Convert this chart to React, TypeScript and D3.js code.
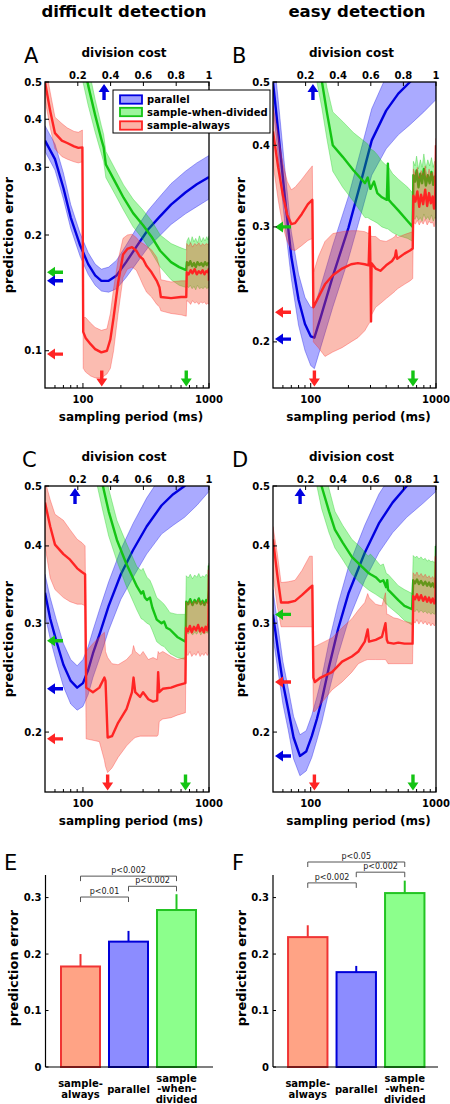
import React from "react";
import * as d3 from "d3";

const FONT = "'DejaVu Sans', Verdana, sans-serif";
type Row = [number, number, number, number]; // sampling period, mean, lo, hi

// ---------- Panel A (difficult detection, division cost) ----------
const A_parallel: Row[] = [
  [50, 0.352, 0.33, 0.385], [60, 0.315, 0.295, 0.345], [70, 0.265, 0.248, 0.29],
  [80, 0.222, 0.208, 0.24], [95, 0.188, 0.176, 0.202], [110, 0.168, 0.158, 0.18],
  [125, 0.157, 0.148, 0.168], [140, 0.152, 0.143, 0.163], [160, 0.152, 0.142, 0.165],
  [185, 0.157, 0.145, 0.172], [220, 0.17, 0.155, 0.188], [270, 0.188, 0.17, 0.21],
  [330, 0.207, 0.186, 0.232], [400, 0.222, 0.198, 0.25], [500, 0.24, 0.213, 0.272],
  [650, 0.258, 0.227, 0.293], [800, 0.271, 0.237, 0.308], [1000, 0.283, 0.248, 0.322],
];
const A_sww: Row[] = [
  [100, 0.57, 0.5, 0.64], [110, 0.49, 0.435, 0.55], [125, 0.41, 0.37, 0.45],
  [140, 0.355, 0.325, 0.385], [146, 0.338, 0.31, 0.365], [152, 0.305, 0.282, 0.33],
  [180, 0.275, 0.255, 0.297], [210, 0.25, 0.232, 0.27], [250, 0.228, 0.21, 0.248],
  [300, 0.212, 0.195, 0.232], [350, 0.198, 0.18, 0.218], [410, 0.182, 0.165, 0.2],
  [500, 0.17, 0.153, 0.19], [580, 0.165, 0.148, 0.186], [660, 0.162, 0.146, 0.183],
  [668, 0.17, 0.147, 0.193], [690, 0.167, 0.146, 0.197], [710, 0.171, 0.148, 0.19],
  [735, 0.166, 0.145, 0.198], [760, 0.169, 0.147, 0.192], [785, 0.165, 0.144, 0.196],
  [810, 0.17, 0.148, 0.191], [840, 0.167, 0.145, 0.199], [870, 0.169, 0.146, 0.192],
  [900, 0.166, 0.145, 0.197], [930, 0.17, 0.147, 0.193], [960, 0.167, 0.145, 0.198],
  [985, 0.169, 0.146, 0.194], [1000, 0.168, 0.146, 0.199],
];
const A_sa: Row[] = [
  [50, 0.5, 0.45, 0.56], [55, 0.42, 0.38, 0.47], [60, 0.368, 0.335, 0.405],
  [68, 0.352, 0.32, 0.39], [75, 0.347, 0.315, 0.38], [85, 0.34, 0.31, 0.372],
  [92, 0.337, 0.308, 0.37], [99, 0.338, 0.31, 0.375], [100.5, 0.112, 0.09, 0.122],
  [105, 0.108, 0.088, 0.122], [115, 0.104, 0.086, 0.118], [125, 0.101, 0.085, 0.115],
  [140, 0.099, 0.085, 0.113], [155, 0.1, 0.087, 0.114], [165, 0.107, 0.09, 0.125],
  [175, 0.122, 0.1, 0.145], [190, 0.15, 0.125, 0.172], [208, 0.178, 0.155, 0.196],
  [225, 0.184, 0.163, 0.2], [245, 0.186, 0.165, 0.201], [265, 0.182, 0.162, 0.197],
  [282, 0.176, 0.155, 0.192], [300, 0.173, 0.148, 0.19], [320, 0.166, 0.142, 0.187],
  [350, 0.16, 0.138, 0.183], [385, 0.152, 0.132, 0.175], [405, 0.146, 0.13, 0.165],
  [415, 0.138, 0.127, 0.153], [500, 0.137, 0.125, 0.151], [600, 0.138, 0.124, 0.152],
  [660, 0.138, 0.123, 0.152], [666, 0.16, 0.135, 0.19], [690, 0.158, 0.134, 0.187],
  [715, 0.162, 0.132, 0.191], [740, 0.159, 0.135, 0.186], [770, 0.163, 0.133, 0.19],
  [800, 0.158, 0.134, 0.188], [830, 0.161, 0.132, 0.191], [860, 0.159, 0.134, 0.187],
  [890, 0.162, 0.133, 0.19], [920, 0.158, 0.134, 0.188], [950, 0.161, 0.132, 0.19],
  [980, 0.16, 0.133, 0.189], [995, 0.163, 0.132, 0.19], [1000, 0.152, 0.134, 0.188],
];
const A_leftArrows: [string, number][] = [["sww", 0.16], ["parallel", 0.152], ["sa", 0.098]];
const A_downArrows: [string, number][] = [["sa", 141], ["sww", 660]];
const A_upArrow = 0.36;

// ---------- Panel B (easy detection, division cost) ----------
const B_parallel: Row[] = [
  [50, 0.5, 0.46, 0.56], [55, 0.42, 0.385, 0.47], [62, 0.335, 0.305, 0.37],
  [70, 0.27, 0.25, 0.295], [80, 0.232, 0.212, 0.254], [90, 0.213, 0.194, 0.234],
  [100, 0.204, 0.184, 0.226], [107, 0.203, 0.182, 0.226], [120, 0.218, 0.196, 0.243],
  [150, 0.252, 0.226, 0.281], [200, 0.299, 0.268, 0.334], [250, 0.35, 0.312, 0.392],
  [307, 0.407, 0.36, 0.455], [400, 0.452, 0.395, 0.51], [500, 0.48, 0.415, 0.55],
  [620, 0.5, 0.43, 0.58], [800, 0.53, 0.45, 0.625], [1000, 0.56, 0.47, 0.67],
];
const B_sww: Row[] = [
  [112, 0.56, 0.5, 0.6], [123, 0.5, 0.455, 0.54], [135, 0.448, 0.408, 0.49],
  [150, 0.4, 0.365, 0.45], [180, 0.384, 0.345, 0.435], [220, 0.366, 0.328, 0.418],
  [271, 0.35, 0.31, 0.405], [285, 0.357, 0.31, 0.402], [300, 0.343, 0.308, 0.395],
  [320, 0.352, 0.306, 0.392], [340, 0.338, 0.304, 0.387], [370, 0.333, 0.3, 0.378],
  [405, 0.33, 0.298, 0.372], [413, 0.375, 0.298, 0.376], [420, 0.33, 0.297, 0.37],
  [450, 0.325, 0.294, 0.362], [500, 0.318, 0.291, 0.355], [595, 0.306, 0.288, 0.345],
  [652, 0.3, 0.285, 0.338], [660, 0.36, 0.31, 0.378], [680, 0.352, 0.308, 0.372],
  [700, 0.366, 0.312, 0.385], [725, 0.345, 0.307, 0.368], [750, 0.362, 0.31, 0.38],
  [775, 0.35, 0.306, 0.37], [800, 0.368, 0.314, 0.388], [830, 0.347, 0.308, 0.369],
  [860, 0.36, 0.311, 0.38], [890, 0.35, 0.307, 0.372], [920, 0.364, 0.313, 0.383],
  [950, 0.348, 0.306, 0.37], [975, 0.358, 0.31, 0.378], [1000, 0.352, 0.309, 0.374],
];
const B_sa: Row[] = [
  [50, 0.42, 0.375, 0.46], [55, 0.37, 0.33, 0.415], [60, 0.335, 0.3, 0.375],
  [65, 0.313, 0.285, 0.352], [70, 0.303, 0.277, 0.342], [75, 0.304, 0.276, 0.345],
  [85, 0.314, 0.281, 0.355], [95, 0.325, 0.286, 0.365], [103, 0.33, 0.288, 0.372],
  [105, 0.226, 0.2, 0.255], [115, 0.234, 0.196, 0.27], [130, 0.245, 0.19, 0.285],
  [150, 0.253, 0.193, 0.293], [178, 0.259, 0.196, 0.295], [210, 0.263, 0.2, 0.296],
  [238, 0.264, 0.203, 0.296], [270, 0.263, 0.208, 0.295], [290, 0.262, 0.213, 0.293],
  [296, 0.3, 0.214, 0.3], [300, 0.258, 0.215, 0.292], [303, 0.215, 0.215, 0.29],
  [306, 0.264, 0.22, 0.29], [330, 0.259, 0.226, 0.29], [360, 0.257, 0.229, 0.286],
  [400, 0.262, 0.233, 0.285], [446, 0.266, 0.237, 0.288], [470, 0.27, 0.239, 0.29],
  [480, 0.276, 0.24, 0.292], [490, 0.268, 0.241, 0.289], [560, 0.273, 0.245, 0.292],
  [620, 0.276, 0.248, 0.294], [652, 0.278, 0.25, 0.295], [660, 0.335, 0.305, 0.368],
  [685, 0.328, 0.303, 0.36], [710, 0.34, 0.307, 0.37], [735, 0.322, 0.302, 0.356],
  [760, 0.336, 0.306, 0.366], [790, 0.325, 0.303, 0.36], [820, 0.342, 0.308, 0.372],
  [850, 0.323, 0.302, 0.357], [880, 0.338, 0.306, 0.368], [910, 0.326, 0.304, 0.36],
  [940, 0.334, 0.305, 0.364], [965, 0.32, 0.3, 0.355], [985, 0.33, 0.303, 0.36],
  [995, 0.37, 0.31, 0.4], [1000, 0.4, 0.31, 0.41],
];
const B_leftArrows: [string, number][] = [["sww", 0.3], ["sa", 0.222], ["parallel", 0.202]];
const B_downArrows: [string, number][] = [["sa", 107], ["sww", 655]];
const B_upArrow = 0.245;

// ---------- Panel C (difficult detection, division cost + ...) ----------
const C_parallel: Row[] = [
  [50, 0.336, 0.31, 0.36], [55, 0.305, 0.283, 0.33], [62, 0.279, 0.258, 0.302],
  [70, 0.257, 0.237, 0.278], [80, 0.242, 0.222, 0.262], [90, 0.236, 0.217, 0.256],
  [100, 0.24, 0.22, 0.262], [110, 0.252, 0.23, 0.275], [120, 0.268, 0.245, 0.292],
  [137, 0.29, 0.265, 0.318], [160, 0.32, 0.292, 0.35], [200, 0.36, 0.328, 0.395],
  [250, 0.394, 0.356, 0.435], [320, 0.43, 0.388, 0.478], [420, 0.465, 0.418, 0.52],
  [520, 0.485, 0.432, 0.545], [640, 0.5, 0.445, 0.565], [800, 0.525, 0.465, 0.6],
  [1000, 0.556, 0.49, 0.64],
];
const C_sww: Row[] = [
  [130, 0.56, 0.5, 0.62], [144, 0.5, 0.455, 0.55], [160, 0.455, 0.415, 0.495],
  [186, 0.409, 0.378, 0.44], [220, 0.375, 0.345, 0.405], [268, 0.344, 0.315, 0.37],
  [290, 0.335, 0.305, 0.365], [300, 0.338, 0.304, 0.368], [310, 0.33, 0.302, 0.362],
  [322, 0.327, 0.3, 0.356], [340, 0.33, 0.298, 0.352], [355, 0.318, 0.292, 0.345],
  [385, 0.304, 0.28, 0.33], [420, 0.3, 0.276, 0.325], [440, 0.302, 0.275, 0.322],
  [460, 0.295, 0.272, 0.318], [490, 0.293, 0.268, 0.312], [560, 0.285, 0.264, 0.31],
  [652, 0.28, 0.262, 0.31], [660, 0.325, 0.29, 0.358], [685, 0.322, 0.288, 0.355],
  [710, 0.328, 0.291, 0.36], [740, 0.321, 0.287, 0.354], [770, 0.327, 0.29, 0.359],
  [800, 0.323, 0.288, 0.356], [830, 0.329, 0.292, 0.361], [860, 0.322, 0.287, 0.355],
  [890, 0.326, 0.29, 0.358], [920, 0.321, 0.288, 0.356], [950, 0.327, 0.29, 0.36],
  [980, 0.324, 0.289, 0.357], [995, 0.34, 0.3, 0.37], [1000, 0.372, 0.32, 0.375],
];
const C_sa: Row[] = [
  [50, 0.47, 0.4, 0.51], [55, 0.43, 0.355, 0.475], [60, 0.402, 0.34, 0.45],
  [70, 0.388, 0.33, 0.44], [79, 0.38, 0.325, 0.425], [90, 0.368, 0.322, 0.41],
  [98, 0.363, 0.322, 0.405], [104, 0.36, 0.32, 0.4], [106, 0.236, 0.195, 0.27],
  [120, 0.232, 0.194, 0.278], [135, 0.236, 0.193, 0.285], [148, 0.245, 0.18, 0.29],
  [151, 0.242, 0.176, 0.27], [157, 0.196, 0.172, 0.264], [170, 0.197, 0.175, 0.258],
  [190, 0.207, 0.182, 0.257], [222, 0.218, 0.19, 0.262], [245, 0.232, 0.194, 0.268],
  [252, 0.245, 0.195, 0.276], [260, 0.232, 0.196, 0.27], [284, 0.228, 0.197, 0.266],
  [300, 0.232, 0.197, 0.27], [330, 0.226, 0.197, 0.262], [360, 0.224, 0.197, 0.264],
  [388, 0.225, 0.197, 0.262], [395, 0.25, 0.198, 0.27], [403, 0.232, 0.208, 0.268],
  [430, 0.235, 0.21, 0.27], [500, 0.236, 0.211, 0.265], [560, 0.238, 0.213, 0.262],
  [650, 0.24, 0.215, 0.264], [657, 0.295, 0.268, 0.325], [680, 0.291, 0.266, 0.322],
  [705, 0.297, 0.27, 0.327], [730, 0.29, 0.265, 0.321], [760, 0.296, 0.268, 0.326],
  [790, 0.292, 0.266, 0.323], [820, 0.298, 0.27, 0.328], [850, 0.291, 0.265, 0.322],
  [880, 0.295, 0.268, 0.326], [910, 0.29, 0.266, 0.321], [940, 0.296, 0.269, 0.325],
  [970, 0.292, 0.266, 0.323], [990, 0.3, 0.268, 0.33], [1000, 0.366, 0.27, 0.37],
];
const C_leftArrows: [string, number][] = [["sww", 0.281], ["parallel", 0.235], ["sa", 0.195]];
const C_downArrows: [string, number][] = [["sa", 157], ["sww", 651]];
const C_upArrow = 0.183;

// ---------- Panel D (easy detection, division cost + ...) ----------
const D_parallel: Row[] = [
  [50, 0.31, 0.285, 0.34], [55, 0.27, 0.25, 0.295], [60, 0.24, 0.222, 0.26],
  [66, 0.218, 0.202, 0.236], [73, 0.196, 0.181, 0.212], [82, 0.183, 0.17, 0.198],
  [92, 0.186, 0.173, 0.201], [102, 0.197, 0.182, 0.213], [112, 0.21, 0.194, 0.228],
  [123, 0.226, 0.208, 0.246], [140, 0.255, 0.233, 0.28], [165, 0.293, 0.266, 0.322],
  [200, 0.335, 0.303, 0.37], [270, 0.39, 0.352, 0.432], [350, 0.435, 0.39, 0.485],
  [450, 0.47, 0.42, 0.525], [584, 0.5, 0.445, 0.565], [800, 0.535, 0.47, 0.61],
  [1000, 0.56, 0.49, 0.645],
];
const D_sww: Row[] = [
  [112, 0.56, 0.5, 0.62], [122, 0.5, 0.46, 0.555], [140, 0.455, 0.42, 0.495],
  [156, 0.425, 0.397, 0.455], [180, 0.405, 0.38, 0.432], [213, 0.384, 0.36, 0.41],
  [250, 0.372, 0.348, 0.398], [287, 0.362, 0.34, 0.385], [300, 0.36, 0.338, 0.388],
  [330, 0.356, 0.334, 0.38], [360, 0.35, 0.33, 0.372], [380, 0.352, 0.328, 0.374],
  [400, 0.343, 0.322, 0.362], [408, 0.352, 0.322, 0.36], [414, 0.34, 0.32, 0.36],
  [500, 0.327, 0.31, 0.345], [560, 0.32, 0.303, 0.34], [645, 0.316, 0.298, 0.335],
  [658, 0.352, 0.315, 0.386], [680, 0.348, 0.313, 0.383], [705, 0.353, 0.316, 0.385],
  [730, 0.347, 0.312, 0.381], [760, 0.351, 0.315, 0.384], [790, 0.346, 0.312, 0.38],
  [820, 0.35, 0.314, 0.382], [850, 0.345, 0.311, 0.378], [880, 0.349, 0.313, 0.38],
  [910, 0.344, 0.31, 0.377], [940, 0.348, 0.312, 0.378], [970, 0.343, 0.31, 0.376],
  [990, 0.347, 0.312, 0.378], [1000, 0.4, 0.33, 0.402],
];
const D_sa: Row[] = [
  [50, 0.41, 0.36, 0.43], [54, 0.36, 0.32, 0.39], [58, 0.324, 0.296, 0.349],
  [66, 0.324, 0.296, 0.35], [75, 0.326, 0.296, 0.352], [85, 0.333, 0.296, 0.365],
  [98, 0.342, 0.296, 0.385], [103, 0.345, 0.296, 0.385], [105, 0.245, 0.216, 0.275],
  [108, 0.241, 0.216, 0.275], [120, 0.245, 0.222, 0.278], [148, 0.25, 0.234, 0.284],
  [178, 0.26, 0.241, 0.295], [213, 0.265, 0.25, 0.305], [240, 0.27, 0.258, 0.315],
  [270, 0.28, 0.261, 0.324], [285, 0.293, 0.262, 0.335], [292, 0.28, 0.262, 0.33],
  [330, 0.282, 0.262, 0.322], [370, 0.285, 0.262, 0.32], [395, 0.3, 0.262, 0.336],
  [405, 0.282, 0.26, 0.31], [414, 0.279, 0.258, 0.31], [460, 0.278, 0.258, 0.306],
  [500, 0.279, 0.258, 0.305], [560, 0.278, 0.258, 0.302], [650, 0.278, 0.258, 0.3],
  [658, 0.332, 0.303, 0.362], [680, 0.328, 0.3, 0.358], [705, 0.334, 0.304, 0.363],
  [730, 0.327, 0.299, 0.357], [760, 0.333, 0.303, 0.361], [790, 0.326, 0.299, 0.356],
  [820, 0.331, 0.302, 0.36], [850, 0.325, 0.298, 0.355], [880, 0.33, 0.301, 0.358],
  [910, 0.324, 0.297, 0.354], [940, 0.329, 0.3, 0.357], [970, 0.323, 0.297, 0.353],
  [990, 0.328, 0.299, 0.356], [1000, 0.385, 0.3, 0.39],
];
const D_leftArrows: [string, number][] = [["sww", 0.31], ["sa", 0.241], ["parallel", 0.183]];
const D_downArrows: [string, number][] = [["sa", 107], ["sww", 655]];
const D_upArrow = 0.166;

// ---------- Bars ----------
const CATS = ["sample-always", "parallel", "sample-when-divided"];
const CAT_KEYS = ["sa", "parallel", "sww"];
const CAT_LABELS = [["sample-", "always"], ["parallel"], ["sample", "-when-", "divided"]];
const E_means = [0.178, 0.222, 0.278];
const E_errTop = [0.2, 0.241, 0.306];
const F_means = [0.23, 0.168, 0.308];
const F_errTop = [0.251, 0.179, 0.33];
const E_brackets: [number, number, string, number][] = [[0, 1, "p<0.01", 0.301], [1, 2, "p<0.002", 0.32], [0, 2, "p<0.002", 0.338]];
const F_brackets: [number, number, string, number][] = [[0, 1, "p<0.002", 0.326], [1, 2, "p<0.002", 0.345], [0, 2, "p<0.05", 0.363]];
const BAR_TICKS = [0, 0.1, 0.2, 0.3];

const X_DOMAIN = [50, 1000];
const TOP_TICKS = [0.2, 0.4, 0.6, 0.8, 1];
const X_LABEL_TICKS = [100, 1000];
const LEGEND = [["parallel", "parallel"], ["sww", "sample-when-divided"], ["sa", "sample-always"]];

const COLORS: Record<string, { line: string; fill: string; op: number; bar: string; barStroke: string }> = {
  parallel: { line: "#0000e0", fill: "rgb(20,20,255)", op: 0.36, bar: "#8c8cff", barStroke: "#0000d8" },
  sww: { line: "#14c414", fill: "rgb(0,228,0)", op: 0.34, bar: "#8cff8c", barStroke: "#22c422" },
  sa: { line: "#ff2424", fill: "rgb(245,70,40)", op: 0.36, bar: "#ffa385", barStroke: "#f03434" },
};

const PANELS = [
  { key: "A", l: 45, r: 209, t: 82, b: 388, yDom: [0.08, 0.5], yTicks: [0.1, 0.2, 0.3, 0.4, 0.5], par: A_parallel, sww: A_sww, sa: A_sa, left: A_leftArrows, down: A_downArrows, up: A_upArrow, letterX: 24, ylabX: 13 },
  { key: "B", l: 273, r: 436, t: 82, b: 388, yDom: [0.17, 0.5], yTicks: [0.2, 0.3, 0.4, 0.5], par: B_parallel, sww: B_sww, sa: B_sa, left: B_leftArrows, down: B_downArrows, up: B_upArrow, letterX: 232, ylabX: 245 },
  { key: "C", l: 45, r: 209, t: 486, b: 792, yDom: [0.16, 0.5], yTicks: [0.2, 0.3, 0.4, 0.5], par: C_parallel, sww: C_sww, sa: C_sa, left: C_leftArrows, down: C_downArrows, up: C_upArrow, letterX: 22, ylabX: 13 },
  { key: "D", l: 273, r: 436, t: 486, b: 792, yDom: [0.16, 0.5], yTicks: [0.2, 0.3, 0.4, 0.5], par: D_parallel, sww: D_sww, sa: D_sa, left: D_leftArrows, down: D_downArrows, up: D_upArrow, letterX: 232, ylabX: 245 },
];

const BARPANELS = [
  { key: "E", axisX: 45.5, axisR: 213, range: [56.5, 200.5], means: E_means, err: E_errTop, brackets: E_brackets, letterX: 4, ylabX: 17.5 },
  { key: "F", axisX: 273, axisR: 438, range: [283.5, 429], means: F_means, err: F_errTop, brackets: F_brackets, letterX: 232, ylabX: 245.5 },
];

function arrowPoints(tx: number, ty: number, ux: number, uy: number) {
  const vx = -uy, vy = ux;
  const shape = [[0, 0], [8, -5.5], [8, -1.7], [16, -1.7], [16, 1.7], [8, 1.7], [8, 5.5]];
  return shape.map(([a, b]) => `${tx + a * ux + b * vx},${ty + a * uy + b * vy}`).join(" ");
}

function Panel({ p }: { p: any }) {
  const x = d3.scaleLog().domain(X_DOMAIN).range([p.l, p.r]);
  const xc = d3.scaleLinear().domain([0, 1]).range([p.l, p.r]);
  const y = d3.scaleLog().domain(p.yDom).range([p.b, p.t]);
  const area = d3.area<Row>().x((d) => x(d[0])).y0((d) => y(d[2])).y1((d) => y(d[3]));
  const line = d3.line<Row>().x((d) => x(d[0])).y((d) => y(d[1]));
  const series: [string, Row[]][] = [["parallel", p.par], ["sww", p.sww], ["sa", p.sa]];
  const cx = (p.l + p.r) / 2;
  const cy = (p.t + p.b) / 2;
  const cid = `clip${p.key}`;
  return (
    <g>
      <defs>
        <clipPath id={cid}>
          <rect x={p.l} y={p.t} width={p.r - p.l} height={p.b - p.t} />
        </clipPath>
      </defs>
      <g clipPath={`url(#${cid})`}>
        {series.map(([k, data]) => (
          <g key={k}>
            <path d={area(data) || ""} fill={COLORS[k].fill} fillOpacity={COLORS[k].op} stroke={COLORS[k].line} strokeWidth={0.6} strokeOpacity={0.55} />
            <path d={line(data) || ""} fill="none" stroke={COLORS[k].line} strokeWidth={2.4} strokeLinejoin="round" />
          </g>
        ))}
      </g>
      {/* arrows */}
      {p.left.map(([k, v]: [string, number], i: number) => (
        <polygon key={"l" + i} points={arrowPoints(p.l + 2, y(v), 1, 0)} fill={COLORS[k].line} />
      ))}
      {p.down.map(([k, v]: [string, number], i: number) => (
        <polygon key={"d" + i} points={arrowPoints(x(v), p.b - 1.5, 0, -1)} fill={COLORS[k].line} />
      ))}
      <polygon points={arrowPoints(xc(p.up), p.t + 2, 0, 1)} fill={COLORS.parallel.line} />
      {/* frame */}
      <rect x={p.l} y={p.t} width={p.r - p.l} height={p.b - p.t} fill="none" stroke="#000" strokeWidth={1.3} />
      {/* bottom ticks */}
      {x.ticks().filter((t) => t > 50).map((t) => {
        const major = X_LABEL_TICKS.includes(t);
        return <line key={"bt" + t} x1={x(t)} x2={x(t)} y1={p.b} y2={p.b - (major ? 5 : 3)} stroke="#000" strokeWidth={1} />;
      })}
      {X_LABEL_TICKS.map((t) => (
        <text key={"bl" + t} x={x(t)} y={p.b + 15} textAnchor="middle" fontSize={10} fontWeight="bold">{t}</text>
      ))}
      <text x={cx + 4} y={p.b + 33} textAnchor="middle" fontSize={12} fontWeight="bold">sampling period (ms)</text>
      {/* top ticks */}
      {TOP_TICKS.map((t) => (
        <g key={"tt" + t}>
          <line x1={xc(t)} x2={xc(t)} y1={p.t} y2={p.t + 4} stroke="#000" strokeWidth={1} />
          <text x={xc(t)} y={p.t - 3} textAnchor="middle" fontSize={10} fontWeight="bold">{t}</text>
        </g>
      ))}
      <text x={cx - 3} y={p.t - 25} textAnchor="middle" fontSize={12} fontWeight="bold">division cost</text>
      {/* left ticks */}
      {p.yTicks.map((t: number) => (
        <g key={"yt" + t}>
          <line x1={p.l} x2={p.l + 4} y1={y(t)} y2={y(t)} stroke="#000" strokeWidth={1} />
          <text x={p.l - 3} y={y(t)} dy="0.35em" textAnchor="end" fontSize={10} fontWeight="bold">{t}</text>
        </g>
      ))}
      <text transform={`translate(${p.ylabX},${cy}) rotate(-90)`} textAnchor="middle" fontSize={13} fontWeight="bold">prediction error</text>
      <text x={p.letterX} y={p.t - 19} fontSize={21}>{p.key}</text>
    </g>
  );
}

function BarPanel({ b }: { b: any }) {
  const xb = d3.scaleBand().domain(CATS).range(b.range).paddingInner(0.1875).paddingOuter(0.09375);
  const y = d3.scaleLinear().domain([0, 0.34]).range([1067, 875]);
  const bw = xb.bandwidth();
  const center = (i: number) => (xb(CATS[i]) as number) + bw / 2;
  return (
    <g>
      {CATS.map((c, i) => {
        const k = CAT_KEYS[i];
        const x0 = xb(c) as number;
        return (
          <g key={c}>
            <line x1={center(i)} x2={center(i)} y1={y(b.means[i])} y2={y(b.err[i])} stroke={COLORS[k].barStroke} strokeWidth={2} />
            <rect x={x0} y={y(b.means[i])} width={bw} height={y(0) - y(b.means[i])} fill={COLORS[k].bar} stroke={COLORS[k].barStroke} strokeWidth={2} />
            {CAT_LABELS[i].map((s, j) => (
              <text key={j} x={center(i)} y={1092.5 - (CAT_LABELS[i].length - 1) * 5.2 + j * 10.3} textAnchor="middle" fontSize={10} fontWeight="bold">{s}</text>
            ))}
          </g>
        );
      })}
      <line x1={b.axisX} x2={b.axisX} y1={y(0)} y2={y(0.34)} stroke="#000" strokeWidth={1.2} />
      <line x1={b.axisX} x2={b.axisR} y1={y(0)} y2={y(0)} stroke="#000" strokeWidth={1.2} />
      {BAR_TICKS.map((t) => (
        <g key={t}>
          <line x1={b.axisX} x2={b.axisX + 3} y1={y(t)} y2={y(t)} stroke="#000" strokeWidth={1} />
          <text x={b.axisX - 4} y={y(t)} dy="0.35em" textAnchor="end" fontSize={10} fontWeight="bold">{t}</text>
        </g>
      ))}
      {b.brackets.map(([i, j, label, v]: [number, number, string, number], n: number) => {
        const yy = y(v);
        return (
          <g key={n}>
            <path d={`M${center(i)},${yy + 5}V${yy}H${center(j)}V${yy + 5}`} fill="none" stroke="#555" strokeWidth={1} />
            <text x={(center(i) + center(j)) / 2} y={yy - 3} textAnchor="middle" fontSize={8} fill="#222">{label}</text>
          </g>
        );
      })}
      <text transform={`translate(${b.ylabX},968) rotate(-90)`} textAnchor="middle" fontSize={13} fontWeight="bold">prediction error</text>
      <text x={b.letterX} y={870} fontSize={21}>{b.key}</text>
    </g>
  );
}

function Legend() {
  const rows = [99.5, 112, 125.5];
  return (
    <g>
      <rect x={113} y={90} width={157} height={43} fill="#fff" stroke="#000" strokeWidth={1} />
      {LEGEND.map(([k, label], i) => (
        <g key={k}>
          <rect x={120} y={rows[i] - 4.2} width={22} height={8.4} fill={COLORS[k].fill} fillOpacity={COLORS[k].op + 0.05} stroke={COLORS[k].line} strokeWidth={1.8} />
          <text x={147} y={rows[i] + 3.6} fontSize={10} fontWeight="bold">{label}</text>
        </g>
      ))}
    </g>
  );
}

export default function App() {
  return (
    <svg width={450} height={1104} style={{ position: "absolute", left: 0, top: 0, display: "block" }} fontFamily={FONT}>
      <rect width={450} height={1104} fill="#fff" />
      <text x={124} y={17} textAnchor="middle" fontSize={16.5} fontWeight="bold">difficult detection</text>
      <text x={357} y={17} textAnchor="middle" fontSize={16.5} fontWeight="bold">easy detection</text>
      {PANELS.map((p) => <Panel key={p.key} p={p} />)}
      <Legend />
      {BARPANELS.map((b) => <BarPanel key={b.key} b={b} />)}
    </svg>
  );
}
